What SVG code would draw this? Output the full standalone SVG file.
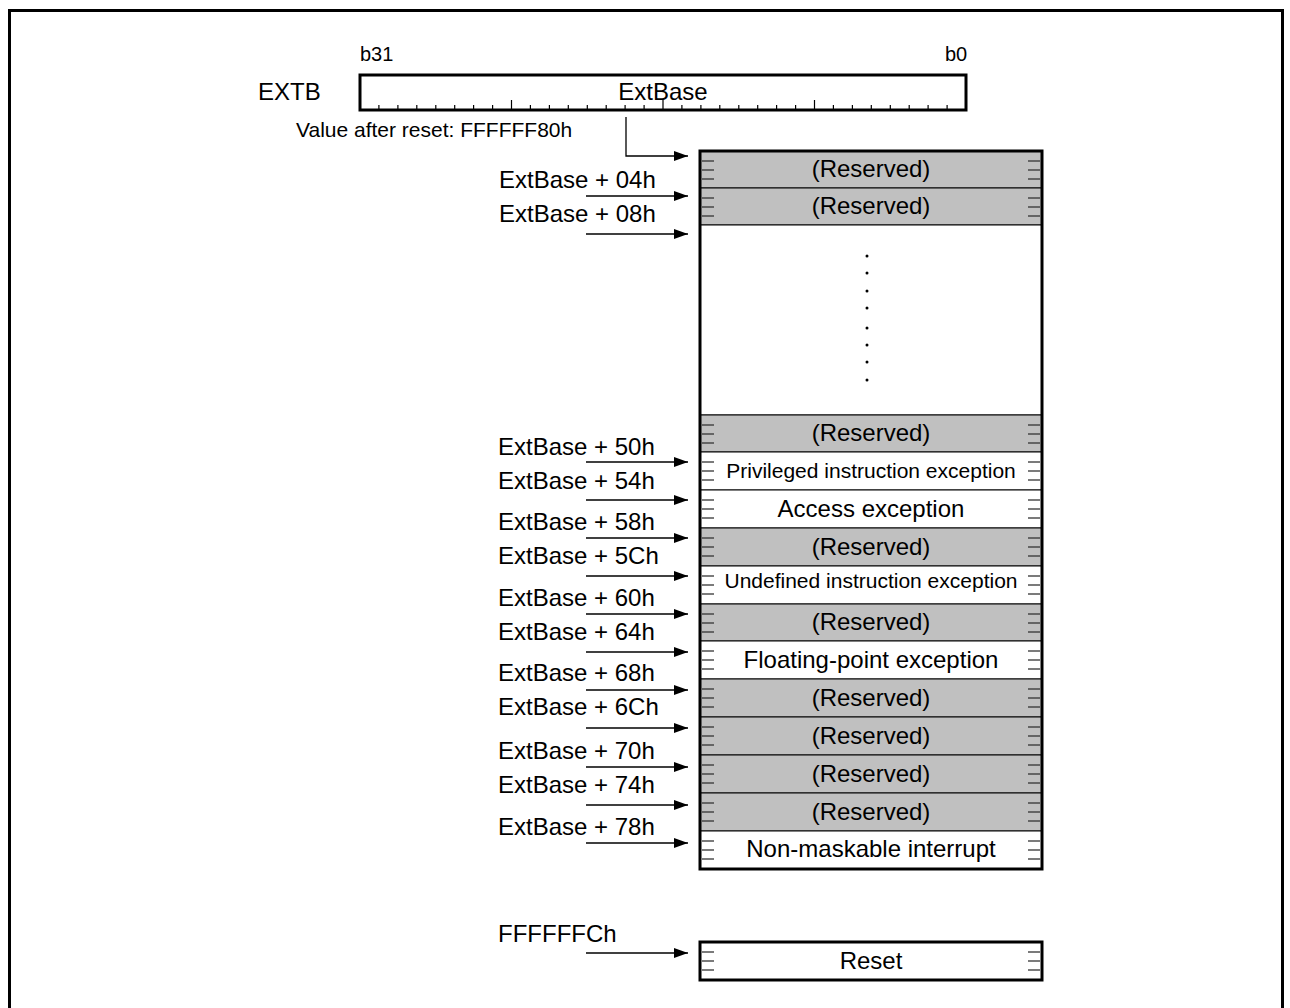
<svg xmlns="http://www.w3.org/2000/svg" xmlns:xlink="http://www.w3.org/1999/xlink" width="1290" height="1008" viewBox="0 0 1290 1008">
<style>
text{font-family:"Liberation Sans",Arial,sans-serif;fill:#000}
.t24{font-size:24px}
.t21{font-size:21px}
.t20{font-size:20px}
.mid{text-anchor:middle}
.res{fill:#c0c0c0;stroke:#000;stroke-width:1}
.cell{fill:#fff;stroke:#000;stroke-width:1}
.tk{stroke:#333;stroke-width:1.3}
.rt{stroke:#000;stroke-width:1.2}
.arr{stroke:#000;stroke-width:1.3;fill:none;marker-end:url(#ah)}
.thick{fill:none;stroke:#000;stroke-width:3}
</style>
<defs>
<marker id="ah" markerUnits="userSpaceOnUse" markerWidth="16" markerHeight="12" refX="14" refY="6" orient="auto"><path d="M0,1 L14,6 L0,11 Z" fill="#000"/></marker>
<g id="ticks">
<line class="tk" x1="702" y1="10" x2="714" y2="10"/>
<line class="tk" x1="702" y1="19" x2="714" y2="19"/>
<line class="tk" x1="702" y1="28" x2="714" y2="28"/>
<line class="tk" x1="1028" y1="10" x2="1040" y2="10"/>
<line class="tk" x1="1028" y1="19" x2="1040" y2="19"/>
<line class="tk" x1="1028" y1="28" x2="1040" y2="28"/>
</g>
</defs>
<rect width="1290" height="1008" fill="#fff"/>
<path class="thick" d="M9.5,1008 V10.5 H1282.5 V1008"/>

<g id="extb-register">
<text class="t20" x="360" y="61">b31</text>
<text class="t20" x="945" y="61">b0</text>
<text class="t24" x="258" y="100">EXTB</text>
<rect class="thick" x="360" y="75" width="606" height="35" fill="#fff"/>
<text class="t24 mid" x="663" y="100">ExtBase</text>
<path class="rt" d="M378.9,110v-5M397.9,110v-5M416.8,110v-5M435.8,110v-5M454.7,110v-5M473.6,110v-5M492.6,110v-5M511.5,110v-10M530.4,110v-5M549.4,110v-5M568.3,110v-5M587.3,110v-5M606.2,110v-5M625.1,110v-5M644.1,110v-5M663,110v-10M681.9,110v-5M700.9,110v-5M719.8,110v-5M738.8,110v-5M757.7,110v-5M776.6,110v-5M795.6,110v-5M814.5,110v-10M833.4,110v-5M852.4,110v-5M871.3,110v-5M890.3,110v-5M909.2,110v-5M928.1,110v-5M947.1,110v-5"/>
<text class="t21" x="296" y="137">Value after reset: FFFFFF80h</text>
</g>

<g id="vector-table">
<rect class="res" x="700" y="151" width="342" height="37"/>
<rect class="res" x="700" y="188" width="342" height="37"/>
<rect class="cell" x="700" y="225" width="342" height="190"/>
<rect class="res" x="700" y="415" width="342" height="37"/>
<rect class="cell" x="700" y="452" width="342" height="38"/>
<rect class="cell" x="700" y="490" width="342" height="38"/>
<rect class="res" x="700" y="528" width="342" height="38"/>
<rect class="cell" x="700" y="566" width="342" height="38"/>
<rect class="res" x="700" y="604" width="342" height="37"/>
<rect class="cell" x="700" y="641" width="342" height="38"/>
<rect class="res" x="700" y="679" width="342" height="38"/>
<rect class="res" x="700" y="717" width="342" height="38"/>
<rect class="res" x="700" y="755" width="342" height="38"/>
<rect class="res" x="700" y="793" width="342" height="38"/>
<rect class="cell" x="700" y="831" width="342" height="38"/>
<use xlink:href="#ticks" y="151"/>
<use xlink:href="#ticks" y="188"/>
<use xlink:href="#ticks" y="415"/>
<use xlink:href="#ticks" y="452"/>
<use xlink:href="#ticks" y="490"/>
<use xlink:href="#ticks" y="528"/>
<use xlink:href="#ticks" y="566"/>
<use xlink:href="#ticks" y="604"/>
<use xlink:href="#ticks" y="641"/>
<use xlink:href="#ticks" y="679"/>
<use xlink:href="#ticks" y="717"/>
<use xlink:href="#ticks" y="755"/>
<use xlink:href="#ticks" y="793"/>
<use xlink:href="#ticks" y="831"/>
<g fill="#000">
<circle cx="867" cy="256" r="1.5"/><circle cx="867" cy="273" r="1.5"/><circle cx="867" cy="291" r="1.5"/><circle cx="867" cy="308" r="1.5"/>
<circle cx="867" cy="328" r="1.5"/><circle cx="867" cy="345" r="1.5"/><circle cx="867" cy="362" r="1.5"/><circle cx="867" cy="380" r="1.5"/>
</g>
<text class="t24 mid" x="871" y="177">(Reserved)</text>
<text class="t24 mid" x="871" y="214">(Reserved)</text>
<text class="t24 mid" x="871" y="441">(Reserved)</text>
<text class="t21 mid" x="871" y="478">Privileged instruction exception</text>
<text class="t24 mid" x="871" y="517">Access exception</text>
<text class="t24 mid" x="871" y="555">(Reserved)</text>
<text class="t21 mid" x="871" y="588">Undefined instruction exception</text>
<text class="t24 mid" x="871" y="630">(Reserved)</text>
<text class="t24 mid" x="871" y="668">Floating-point exception</text>
<text class="t24 mid" x="871" y="706">(Reserved)</text>
<text class="t24 mid" x="871" y="744">(Reserved)</text>
<text class="t24 mid" x="871" y="782">(Reserved)</text>
<text class="t24 mid" x="871" y="820">(Reserved)</text>
<text class="t24 mid" x="871" y="857">Non-maskable interrupt</text>
<rect class="thick" x="700" y="151" width="342" height="718"/>
</g>

<g id="reset-vector">
<rect class="cell" x="700" y="942" width="342" height="38"/>
<use xlink:href="#ticks" y="942"/>
<rect class="thick" x="700" y="942" width="342" height="38"/>
<text class="t24 mid" x="871" y="969">Reset</text>
</g>

<g id="address-labels">
<text class="t24" x="499" y="188">ExtBase + 04h</text>
<text class="t24" x="499" y="222">ExtBase + 08h</text>
<text class="t24" x="498" y="455">ExtBase + 50h</text>
<text class="t24" x="498" y="489">ExtBase + 54h</text>
<text class="t24" x="498" y="530">ExtBase + 58h</text>
<text class="t24" x="498" y="564">ExtBase + 5Ch</text>
<text class="t24" x="498" y="606">ExtBase + 60h</text>
<text class="t24" x="498" y="640">ExtBase + 64h</text>
<text class="t24" x="498" y="681">ExtBase + 68h</text>
<text class="t24" x="498" y="715">ExtBase + 6Ch</text>
<text class="t24" x="498" y="759">ExtBase + 70h</text>
<text class="t24" x="498" y="793">ExtBase + 74h</text>
<text class="t24" x="498" y="835">ExtBase + 78h</text>
<text class="t24" x="498" y="942">FFFFFFCh</text>
</g>

<g id="connectors">
<path class="arr" d="M626,117 V156 H688"/>
<line class="arr" x1="586" y1="196" x2="688" y2="196"/>
<line class="arr" x1="586" y1="234" x2="688" y2="234"/>
<line class="arr" x1="586" y1="462" x2="688" y2="462"/>
<line class="arr" x1="586" y1="500" x2="688" y2="500"/>
<line class="arr" x1="586" y1="538" x2="688" y2="538"/>
<line class="arr" x1="586" y1="576" x2="688" y2="576"/>
<line class="arr" x1="586" y1="614" x2="688" y2="614"/>
<line class="arr" x1="586" y1="652" x2="688" y2="652"/>
<line class="arr" x1="586" y1="690" x2="688" y2="690"/>
<line class="arr" x1="586" y1="728" x2="688" y2="728"/>
<line class="arr" x1="586" y1="767" x2="688" y2="767"/>
<line class="arr" x1="586" y1="805" x2="688" y2="805"/>
<line class="arr" x1="586" y1="843" x2="688" y2="843"/>
<line class="arr" x1="586" y1="953" x2="688" y2="953"/>
</g>
</svg>
